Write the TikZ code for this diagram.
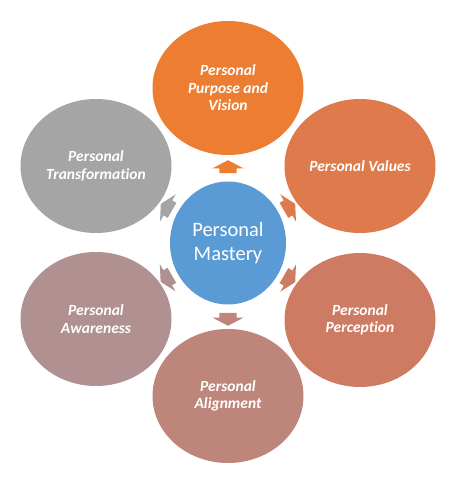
\documentclass[tikz,border=0pt]{standalone}
\usepackage{fontspec}
\setmainfont{Carlito}[Ligatures=NoCommon]
\usetikzlibrary{shapes.geometric, shapes.arrows, calc}
\definecolor{pmblue}{HTML}{5B9BD5}
\definecolor{pmorange}{HTML}{ED7D31}
\definecolor{pmvalue}{HTML}{DE7A4C}
\definecolor{pmpercep}{HTML}{CD7B63}
\definecolor{pmalign}{HTML}{BE857A}
\definecolor{pmaware}{HTML}{B09090}
\definecolor{pmgray}{HTML}{A5A5A5}

\tikzset{
  petal/.style={ellipse, minimum width=151pt, minimum height=134pt, inner sep=0pt,
    text=white, align=center, font=\fontsize{15.5}{17.5}\selectfont\bfseries\itshape},
  hub/.style={ellipse, fill=pmblue, minimum width=116pt, minimum height=123pt, inner sep=0pt,
    text=white, align=center, font=\fontsize{20.5}{24}\selectfont},
  blockarrow/.style={single arrow, draw=none, minimum height=13pt, inner xsep=1pt, inner ysep=8.5pt,
    single arrow head extend=7pt, single arrow tip angle=125}
}

\begin{document}
\begin{tikzpicture}[x=1pt, y=1pt]

% Canvas
\fill[white] (0,0) rectangle (467,480);
\useasboundingbox (0,0) rectangle (467,480);

% Centre
\node[hub] (mastery) at (228,237) {Personal\\Mastery};

% Outer ellipses
\node[petal, fill=pmorange] (purpose) at (228,392) {Personal\\Purpose and\\Vision};
\node[petal, fill=pmvalue] (values) at (360,314) {Personal Values};
\node[petal, fill=pmpercep] (percep) at (360,160) {Personal\\Perception};
\node[petal, fill=pmalign] (align) at (228,84) {Personal\\Alignment};
\node[petal, fill=pmaware] (aware) at (96,161) {Personal\\Awareness};
\node[petal, fill=pmgray] (transf) at (96,314) {Personal\\Transformation};

% Block arrows pointing outward
\node[blockarrow, fill=pmorange, rotate=90] (a1) at ($(mastery)!74pt!(purpose)$) {};
\node[blockarrow, fill=pmvalue, rotate=30] (a2) at ($(mastery)!69pt!(values)$) {};
\node[blockarrow, fill=pmpercep, rotate=-30] (a3) at ($(mastery)!69pt!(percep)$) {};
\node[blockarrow, fill=pmalign, rotate=-90] (a4) at ($(mastery)!74pt!(align)$) {};
\node[blockarrow, fill=pmaware, rotate=210] (a5) at ($(mastery)!69pt!(aware)$) {};
\node[blockarrow, fill=pmgray, rotate=150] (a6) at ($(mastery)!69pt!(transf)$) {};

\end{tikzpicture}
\end{document}
